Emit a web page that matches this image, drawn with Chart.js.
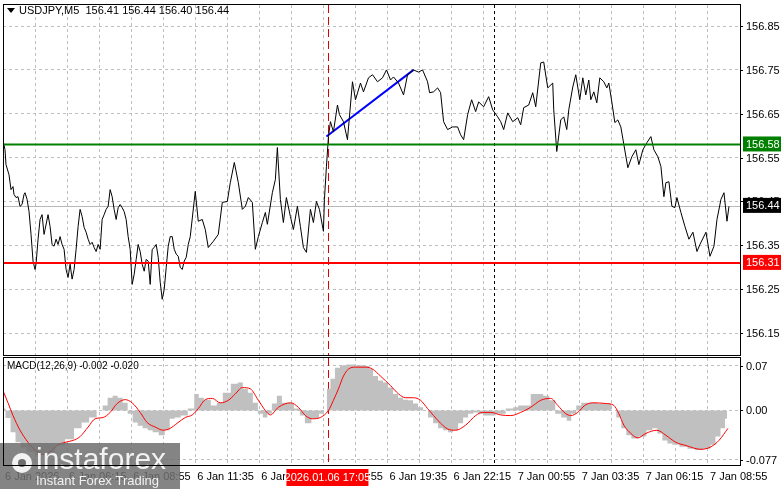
<!DOCTYPE html>
<html><head><meta charset="utf-8">
<script src="https://cdn.jsdelivr.net/npm/chart.js@4"></script>
<style>
html,body{margin:0;padding:0;background:#fff;width:781px;height:489px;overflow:hidden;position:relative}
canvas{position:absolute;left:0}
</style></head><body>
<canvas id="c1" style="top:0" width="781" height="357"></canvas>
<canvas id="c2" style="top:355px" width="781" height="134"></canvas>
<script>
const priceBars=[0,1,1.5,3,4,5,5.5,6.5,7.5,8.5,9.5,10.5,11,12,13,14,15,16,16.5,17.5,18.5,19.5,20.5,21,22.5,23.5,24.5,25.5,26.5,27.5,28.5,29.5,30.5,31.5,32.5,33.5,34.5,35.5,36.5,37.5,38.5,39.5,40.5,41.5,42.5,43.5,44.5,45.5,46.5,47.5,48.5,49.5,50.5,51.5,52.5,53.5,54.5,55.5,56.5,57.5,58.5,59.5,60.5,61.5,62.5,63.5,64.5,65.5,66.5,67.5,68.5,69.5,70.5,71.5,72.5,73.5,74.5,75.5,76.5,77.5,78.5,79.5,80.5,81.5,82.5,83.5,84.5,85.5,86.5,87.5,88.5,89.5,90.5,91.5,92.5,93.5,96,97.5,99.5,101,102.5,105,107.5,109.5,112,113.5,115.5,117.5,119.5,121,122.5,124.5,126,127.5,129.5,131,132,134.5,136,137,138.5,140,141.5,143.5,145,147,148.5,150,151.5,153.5,155,156.5,158,160,160.5,161.5,162.5,163.5,165,167,168,170,172,174.5,176,178.5,180,182.5,184.5,187,189.5,191.5,193.5,195,197.5,200,202,205,207.5,209.5,212,213,215,217,218.5,220,222,224.5,227,228.5,230,232,234,236,237.5,240,242.5,244.5,247,248.5,250,252,254.5,257,258.5,260,262.5,264.5,266,268.5,270,272,274.5,275,276.5,278.5,280,281.5,282.5,284.5,286,288,289.5,291,292.5,293.5,295,296.5,298,300,301.5,302.5,304,305.5,307,308.5,310,312,314,316,317.5,319.5,321.5,323.5,325,327,328.5,330,331,332.5,334,335.5,336.5,338.5,340.5,342.5,344.5,346.5,348,351,353,355,356.5,358.5,360,361.5,362.5];
const priceVals=[156.589,156.568,156.534,156.511,156.477,156.484,156.466,156.459,156.461,156.439,156.443,156.466,156.470,156.455,156.427,156.375,156.314,156.295,156.307,156.364,156.409,156.420,156.375,156.386,156.420,156.393,156.352,156.348,156.364,156.352,156.370,156.352,156.341,156.295,156.277,156.307,156.273,156.295,156.341,156.393,156.432,156.416,156.391,156.380,156.364,156.352,156.357,156.345,156.336,156.352,156.341,156.409,156.420,156.432,156.439,156.477,156.461,156.432,156.409,156.436,156.443,156.436,156.427,156.409,156.370,156.341,156.261,156.284,156.318,156.352,156.336,156.307,156.291,156.318,156.314,156.261,156.341,156.345,156.352,156.323,156.266,156.227,156.250,156.300,156.348,156.370,156.370,156.341,156.330,156.325,156.300,156.295,156.314,156.323,156.352,156.370,156.473,156.405,156.409,156.386,156.345,156.359,156.375,156.448,156.450,156.493,156.539,156.493,156.432,156.439,156.459,156.448,156.341,156.370,156.402,156.425,156.398,156.470,156.500,156.573,156.455,156.402,156.459,156.416,156.386,156.439,156.393,156.345,156.334,156.432,156.402,156.450,156.432,156.382,156.455,156.530,156.598,156.632,156.609,156.670,156.648,156.632,156.591,156.723,156.682,156.720,156.700,156.732,156.739,156.723,156.732,156.750,156.727,156.734,156.720,156.693,156.739,156.750,156.745,156.750,156.723,156.698,156.700,156.709,156.698,156.632,156.614,156.620,156.620,156.602,156.591,156.648,156.682,156.655,156.677,156.666,156.689,156.659,156.643,156.632,156.614,156.652,156.632,156.641,156.625,156.664,156.670,156.698,156.666,156.766,156.768,156.709,156.720,156.659,156.564,156.636,156.643,156.614,156.659,156.711,156.739,156.682,156.732,156.693,156.727,156.682,156.700,156.675,156.732,156.723,156.709,156.720,156.677,156.630,156.636,156.620,156.580,156.527,156.552,156.568,156.534,156.568,156.584,156.598,156.568,156.552,156.530,156.461,156.493,156.495,156.439,156.436,156.459,156.425,156.393,156.364,156.380,156.336,156.352,156.380,156.325,156.348,156.409,156.455,156.470,156.405,156.439];
const macdBars=[0,2.5,5,7.5,10,13.5,18.5,23.5,28.5,33.5,37.5,41,45,48.5,51,53.5,56,58.5,61,63.5,66,68.5,71,73.5,76,79.5,82,84.5,87,90.5,94,97,98.5,102,105.5,108,111.5,116,118.5,121,123.5,126,128.5,131,133,135.5,138,140.5,143.5,147,149.5,152,156,159.5,161,162.5,164.5,167,169.5,173.5,178.5,182.5,183.5,186,188.5,191,193.5,196,198.5,201,203.5,206,208.5,211,213.5,216,218.5,221,223.5,226,228.5,231,233.5,236,238.5,241,243.5,248.5,253.5,256,258.5,268.5,271,274.5,277,280.5,282.5,285,287.5,290,294,299,302.5,305,307.5,310,312.5,315,319.5,323,325.5,328,330.5,333,335.5,340,343.5,347.5,352,354.5,357,359.5,361.5];
const macdVals=[0.003,-0.012,-0.034,-0.050,-0.058,-0.065,-0.070,-0.065,-0.055,-0.045,-0.028,-0.019,-0.011,0,0.008,0.020,0.023,0.020,0.012,-0.005,-0.019,-0.024,-0.028,-0.031,-0.034,-0.039,-0.031,-0.013,-0.011,-0.008,0.003,0.026,0.020,0.017,0.008,0.012,0.028,0.042,0.044,0.034,0.028,0.012,-0.005,-0.011,-0.005,0.011,0.023,0.012,0.012,0.003,-0.008,-0.020,-0.013,-0.005,0,0.034,0.050,0.067,0.071,0.072,0.071,0.070,0.065,0.054,0.047,0.044,0.036,0.026,0.020,0.017,0.016,0.011,0.005,0,-0.011,-0.020,-0.028,-0.031,-0.034,-0.031,-0.020,-0.011,-0.005,-0.003,-0.005,-0.008,-0.008,-0.005,0.003,0.005,0.008,0.026,0.023,0.016,-0.005,-0.011,-0.016,-0.005,0.008,0.012,0.012,0.011,0.011,0,-0.011,-0.028,-0.039,-0.044,-0.041,-0.031,-0.028,-0.036,-0.047,-0.052,-0.054,-0.057,-0.060,-0.062,-0.060,-0.054,-0.041,-0.028,-0.013,-0.003,-0.002];
const sigBars=[0,2.5,5,8.5,12.5,16,20,23.5,27.5,31,35,38.5,42.5,46,50,53.5,57,61,64.5,68.5,72,76,80,83.5,87,91,94.5,97.5,101,104.5,108.5,112.5,116,119.5,123.5,127.5,131,133.5,137.5,143.5,147.5,151,154.5,158.5,162.5,165,167.5,170,172.5,176,181,184.5,188.5,193.5,197.5,201,205,208.5,212,215,218.5,222,226,231,236,239.5,243.5,248.5,253.5,258.5,263.5,268.5,273.5,277,281,283.5,287,290.5,294.5,301,305,307.5,310,313.5,317,321,326.5,331,336,341,348.5,353.5,357.5,362];
const sigVals=[0.031,0.012,-0.008,-0.031,-0.050,-0.062,-0.069,-0.065,-0.054,-0.050,-0.047,-0.041,-0.026,-0.013,-0.011,-0.003,0.011,0.017,0.012,-0.003,-0.019,-0.026,-0.031,-0.028,-0.020,-0.011,-0.007,0.003,0.017,0.019,0.012,0.016,0.026,0.036,0.034,0.016,0,-0.007,0.005,0.012,0.005,-0.008,-0.013,-0.011,0,0.016,0.034,0.054,0.065,0.068,0.068,0.065,0.054,0.039,0.026,0.020,0.020,0.016,0.003,-0.008,-0.020,-0.029,-0.031,-0.023,-0.008,-0.003,-0.003,-0.007,-0.008,-0.003,0.005,0.016,0.019,0.008,-0.005,-0.008,-0.003,0.008,0.012,0.011,0.008,-0.005,-0.023,-0.036,-0.043,-0.036,-0.031,-0.039,-0.050,-0.055,-0.061,-0.057,-0.047,-0.028];
const priceTicks=[156.85,156.75,156.65,156.55,156.45,156.35,156.25,156.15];
const macdTicks=[0.07,0.00,-0.077];
const macdTickLabels=["0.07","0.00","-0.077"];
const timeTickBars=[0,32,64,96,128,160,192,224,256,288,320,352];
const timeLabels=["6 Jan 2026","6 Jan 06:15","6 Jan 08:55","6 Jan 11:35","6 Jan 14:15","6 Jan 16:55","6 Jan 19:35","6 Jan 22:15","7 Jan 00:55","7 Jan 03:35","7 Jan 06:15","7 Jan 08:55"];
const levelGreen=156.58, levelRed=156.31, lastPrice=156.44;
const trendBars=[161.5,205], trendVals=[156.598,156.750];
const markerBar=162.5, dottedBar=245;

const XMIN=0,XMAX=368;
const FONT='"Liberation Sans", Arial, sans-serif';
const pts=(xs,ys)=>xs.map((x,i)=>({x,y:ys[i]}));
const gridCol='#c0c0c0';
function xScale(){
  return {type:'linear',min:XMIN,max:XMAX,
    afterBuildTicks:s=>{const t=[];for(let b=0;b<=XMAX;b+=16)t.push({value:b});s.ticks=t;},
    afterFit:s=>{s.height=0;},
    grid:{color:gridCol,drawTicks:false,lineWidth:1},border:{display:false,dash:[3,3]},
    ticks:{display:false}};
}
const deco={
  id:'deco',
  beforeDatasetsDraw(c,a,o){
    const {ctx,chartArea:ca,scales}=c;const x=scales.x;
    ctx.save();
    ctx.lineWidth=1;
    ctx.strokeStyle='#e00000';ctx.setLineDash([8,4]);
    let px=Math.round(x.getPixelForValue(markerBar))+0.5;
    ctx.beginPath();ctx.moveTo(px,ca.top);ctx.lineTo(px,ca.bottom);ctx.stroke();
    ctx.strokeStyle='#000';ctx.setLineDash([3,3]);
    px=Math.round(x.getPixelForValue(dottedBar))+0.5;
    ctx.beginPath();ctx.moveTo(px,ca.top);ctx.lineTo(px,ca.bottom);ctx.stroke();
    ctx.setLineDash([]);
    if(o.main){
      const py=Math.round(scales.y.getPixelForValue(lastPrice))+0.5;
      ctx.strokeStyle='#b8b8b8';ctx.beginPath();ctx.moveTo(ca.left,py);ctx.lineTo(ca.right,py);ctx.stroke();
    }
    ctx.restore();
  },
  afterDatasetsDraw(c,a,o){
    const {ctx,chartArea:ca,scales}=c;const y=scales.y;
    ctx.save();
    // y labels
    ctx.fillStyle='#000';ctx.strokeStyle='#000';ctx.lineWidth=1;ctx.font='11px '+FONT;ctx.textBaseline='middle';ctx.textAlign='left';
    o.ticks.forEach((v,i)=>{const py=Math.round(y.getPixelForValue(v))+0.5;
      ctx.beginPath();ctx.moveTo(ca.right,py);ctx.lineTo(ca.right+3,py);ctx.stroke();
      ctx.fillText(o.labels[i],ca.right+6,py);});
    if(o.main){
      const hl=(v,col,w)=>{const py=y.getPixelForValue(v);ctx.strokeStyle=col;ctx.lineWidth=w;ctx.beginPath();ctx.moveTo(ca.left,py);ctx.lineTo(ca.right,py);ctx.stroke();};
      hl(levelGreen,'#008000',2);hl(levelRed,'#ff0000',2);
      const box=(v,bg)=>{const py=y.getPixelForValue(v);ctx.fillStyle=bg;ctx.fillRect(ca.right+3,py-8,38,15);
        ctx.fillStyle='#fff';ctx.font='11px '+FONT;ctx.textBaseline='middle';ctx.fillText(v.toFixed(2),ca.right+6,py);};
      box(levelGreen,'#008000');box(lastPrice,'#000');box(levelRed,'#ff0000');
      ctx.fillStyle='#000';ctx.font='11px '+FONT;ctx.textBaseline='middle';
      ctx.beginPath();ctx.moveTo(7,8);ctx.lineTo(15,8);ctx.lineTo(11,13);ctx.fill();
      ctx.fillText('USDJPY,M5  156.41 156.44 156.40 156.44',19,11);
    } else {
      ctx.fillStyle='#000';ctx.font='10px '+FONT;ctx.textBaseline='middle';
      ctx.fillText('MACD(12,26,9) -0.002 -0.020',7,11);
      // x labels
      ctx.font='11px '+FONT;
      timeTickBars.forEach((b,i)=>{ctx.fillText(timeLabels[i],scales.x.getPixelForValue(b)+2,ca.bottom+12);});
      const px=scales.x.getPixelForValue(markerBar);
      ctx.fillStyle='#ff0000';ctx.fillRect(px-42,ca.bottom+4,82,17);
      ctx.fillStyle='#fff';ctx.textAlign='center';ctx.fillText('2026.01.06 17:05',px-1,ca.bottom+13);
      // logo
      ctx.textAlign='left';
      ctx.fillStyle='rgba(110,110,110,0.85)';ctx.fillRect(0,88,180,46);
      ctx.fillStyle='#f2f2f2';
      ctx.beginPath();ctx.arc(22,108,10,0,Math.PI*2);ctx.fill();
      ctx.fillStyle='rgb(110,110,110)';ctx.beginPath();ctx.arc(22,108,4,0,Math.PI*2);ctx.fill();
      ctx.fillStyle='#f2f2f2';ctx.font='30px '+FONT;ctx.fillText('instaforex',36,106);
      ctx.font='13px '+FONT;ctx.fillText('Instant Forex Trading',36,126);
    }
    ctx.strokeStyle='#000';ctx.lineWidth=1;
    ctx.strokeRect(Math.round(ca.left)+0.5,Math.round(ca.top)-0.5,Math.round(ca.right-ca.left),Math.round(ca.bottom-ca.top)+1);
    ctx.restore();
  }
};
Chart.defaults.animation=false;
Chart.defaults.font.family=FONT;
const yRight=(min,max,ticks)=>({position:'right',min,max,
  afterBuildTicks:s=>{s.ticks=ticks.map(v=>({value:v}));},
  afterFit:s=>{s.width=41;},
  grid:{color:gridCol,drawTicks:false},border:{display:false,dash:[3,3]},
  ticks:{display:false}});
new Chart(document.getElementById('c1'),{
  type:'line',
  data:{datasets:[
    {data:pts(priceBars,priceVals),borderColor:'#000',borderWidth:1,pointRadius:0,tension:0},
    {data:pts(trendBars,trendVals),borderColor:'#0000ff',borderWidth:2,pointRadius:0}
  ]},
  options:{responsive:false,parsing:false,layout:{padding:{left:3,top:5,right:0,bottom:2}},
    plugins:{legend:{display:false},tooltip:{enabled:false},deco:{main:true,ticks:priceTicks,labels:priceTicks.map(v=>v.toFixed(2))}},
    scales:{x:xScale(),y:yRight(156.10,156.898,priceTicks)}},
  plugins:[deco]
});
new Chart(document.getElementById('c2'),{
  type:'line',
  data:{datasets:[
    {data:pts(sigBars,sigVals),borderColor:'#ff0000',borderWidth:1,pointRadius:0,cubicInterpolationMode:'monotone'},
    {data:pts(macdBars,macdVals),borderWidth:0,backgroundColor:'#c0c0c0',fill:'origin',stepped:'middle',pointRadius:0}
  ]},
  options:{responsive:false,parsing:false,layout:{padding:{left:3,top:3,right:0,bottom:24}},
    plugins:{legend:{display:false},tooltip:{enabled:false},deco:{main:false,ticks:macdTicks,labels:macdTickLabels}},
    scales:{x:xScale(),y:yRight(-0.0856,0.0824,macdTicks)}},
  plugins:[deco]
});
</script></body></html>
